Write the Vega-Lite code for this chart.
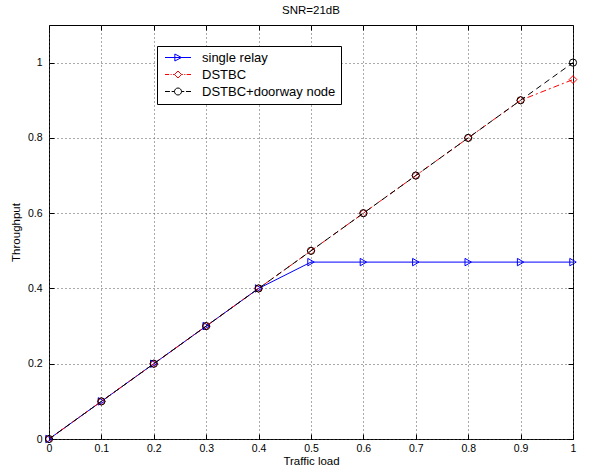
{
  "$schema": "https://vega.github.io/schema/vega-lite/v6.json",
  "width": 524,
  "height": 414,
  "autosize": {"type": "none"},
  "padding": {"left": 49, "top": 25, "right": 17, "bottom": 31},
  "background": "white",
  "title": {"text": "SNR=21dB", "font": "Liberation Sans", "fontSize": 11.5, "fontWeight": "normal", "color": "black", "offset": 8},
  "config": {
    "view": {"stroke": "black", "strokeWidth": 1},
    "axis": {
      "labelFont": "Liberation Sans", "labelFontSize": 10.5, "labelColor": "black",
      "titleFont": "Liberation Sans", "titleFontSize": 11.5, "titleFontWeight": "normal", "titleColor": "black",
      "domain": false, "tickColor": "black", "tickSize": -5, "labelFlush": false, "labelOverlap": false,
      "gridColor": "#555", "gridDash": [1, 3], "gridOpacity": 1
    }
  },
  "data": {"values": [
    {"series": "single relay", "x": 0, "y": 0},
    {"series": "single relay", "x": 0.1, "y": 0.1},
    {"series": "single relay", "x": 0.2, "y": 0.2},
    {"series": "single relay", "x": 0.3, "y": 0.3},
    {"series": "single relay", "x": 0.4, "y": 0.4},
    {"series": "single relay", "x": 0.5, "y": 0.47},
    {"series": "single relay", "x": 0.6, "y": 0.47},
    {"series": "single relay", "x": 0.7, "y": 0.47},
    {"series": "single relay", "x": 0.8, "y": 0.47},
    {"series": "single relay", "x": 0.9, "y": 0.47},
    {"series": "single relay", "x": 1, "y": 0.47},
    {"series": "DSTBC", "x": 0, "y": 0},
    {"series": "DSTBC", "x": 0.1, "y": 0.1},
    {"series": "DSTBC", "x": 0.2, "y": 0.2},
    {"series": "DSTBC", "x": 0.3, "y": 0.3},
    {"series": "DSTBC", "x": 0.4, "y": 0.4},
    {"series": "DSTBC", "x": 0.5, "y": 0.5},
    {"series": "DSTBC", "x": 0.6, "y": 0.6},
    {"series": "DSTBC", "x": 0.7, "y": 0.7},
    {"series": "DSTBC", "x": 0.8, "y": 0.8},
    {"series": "DSTBC", "x": 0.9, "y": 0.9},
    {"series": "DSTBC", "x": 1, "y": 0.955},
    {"series": "DSTBC+doorway node", "x": 0, "y": 0},
    {"series": "DSTBC+doorway node", "x": 0.1, "y": 0.1},
    {"series": "DSTBC+doorway node", "x": 0.2, "y": 0.2},
    {"series": "DSTBC+doorway node", "x": 0.3, "y": 0.3},
    {"series": "DSTBC+doorway node", "x": 0.4, "y": 0.4},
    {"series": "DSTBC+doorway node", "x": 0.5, "y": 0.5},
    {"series": "DSTBC+doorway node", "x": 0.6, "y": 0.6},
    {"series": "DSTBC+doorway node", "x": 0.7, "y": 0.7},
    {"series": "DSTBC+doorway node", "x": 0.8, "y": 0.8},
    {"series": "DSTBC+doorway node", "x": 0.9, "y": 0.9},
    {"series": "DSTBC+doorway node", "x": 1, "y": 1.0}
  ]},
  "layer": [
    {
      "mark": {"type": "point", "opacity": 0},
      "encoding": {
        "x": {"field": "x", "type": "quantitative", "scale": {"domain": [0, 1], "nice": false, "zero": false},
          "axis": {"orient": "top", "labels": false, "title": null, "grid": false, "values": [0, 0.1, 0.2, 0.3, 0.4, 0.5, 0.6, 0.7, 0.8, 0.9, 1]}},
        "y": {"field": "y", "type": "quantitative", "scale": {"domain": [0, 1.1], "nice": false, "zero": false},
          "axis": {"orient": "right", "labels": false, "title": null, "grid": false, "values": [0, 0.2, 0.4, 0.6, 0.8, 1]}}
      }
    },
    {
      "transform": [{"filter": "datum.series == 'single relay'"}],
      "mark": {"type": "line", "strokeWidth": 1},
      "encoding": {
        "x": {"field": "x", "type": "quantitative", "axis": {"orient": "bottom", "title": "Traffic load", "grid": true, "format": "~g", "labelPadding": 9, "titlePadding": 2, "values": [0, 0.1, 0.2, 0.3, 0.4, 0.5, 0.6, 0.7, 0.8, 0.9, 1]}},
        "y": {"field": "y", "type": "quantitative", "axis": {"orient": "left", "title": "Throughput", "grid": true, "format": "~g", "labelPadding": 12, "titlePadding": 6, "values": [0, 0.2, 0.4, 0.6, 0.8, 1]}},
        "color": {"field": "series", "type": "nominal",
          "scale": {"domain": ["single relay", "DSTBC", "DSTBC+doorway node"], "range": ["#0000ff", "#ff0000", "#000000"]},
          "legend": {
            "title": null, "orient": "none", "legendX": 108, "legendY": 21,
            "strokeColor": "black", "fillColor": "white", "padding": 5,
            "labelFont": "Liberation Sans", "labelFontSize": 13, "labelColor": "black", "labelOffset": 27,
            "rowPadding": 3, "symbolSize": 49, "symbolStrokeWidth": 1,
            "encode": {"symbols": {"update": {
              "shape": {"signal": "datum.value == 'single relay' ? 'M-1,0H6.43M1.814,-1L3.714,0L1.814,1Z' : datum.value == 'DSTBC' ? 'M-1,0H0.2M0.6,0H0.9M1.3,0H1.714M3.714,0H4.1M4.5,0H4.8M5.2,0H6.43M2.714,-1L3.714,0L2.714,1L1.714,0Z' : 'M-1,0H0.4M0.9,0H1.714M3.714,0H4.5M5,0H6.43M1.714,0A1,1,0,1,1,3.714,0A1,1,0,1,1,1.714,0Z'"},
              "fill": {"value": "transparent"},
              "stroke": {"scale": "color", "field": "value"},
              "strokeWidth": {"value": 1},
              "strokeDash": {"value": []},
              "size": {"value": 49},
              "opacity": {"value": 1}
            }}}
          }}
      }
    },
    {
      "transform": [{"filter": "datum.series == 'single relay'"}],
      "mark": {"type": "point", "shape": "triangle-right", "filled": false, "size": 55, "strokeWidth": 1, "opacity": 1},
      "encoding": {
        "x": {"field": "x", "type": "quantitative", "axis": null},
        "y": {"field": "y", "type": "quantitative", "axis": null},
        "color": {"field": "series", "type": "nominal"}
      }
    },
    {
      "transform": [{"filter": "datum.series == 'DSTBC'"}],
      "mark": {"type": "line", "strokeWidth": 1, "strokeDash": [6, 3, 2, 3]},
      "encoding": {
        "x": {"field": "x", "type": "quantitative", "axis": null},
        "y": {"field": "y", "type": "quantitative", "axis": null},
        "color": {"field": "series", "type": "nominal"}
      }
    },
    {
      "transform": [{"filter": "datum.series == 'DSTBC'"}],
      "mark": {"type": "point", "shape": "diamond", "filled": false, "size": 60, "strokeWidth": 1, "opacity": 1},
      "encoding": {
        "x": {"field": "x", "type": "quantitative", "axis": null},
        "y": {"field": "y", "type": "quantitative", "axis": null},
        "color": {"field": "series", "type": "nominal"}
      }
    },
    {
      "transform": [{"filter": "datum.series == 'DSTBC+doorway node'"}],
      "mark": {"type": "line", "strokeWidth": 1, "strokeDash": [6, 4]},
      "encoding": {
        "x": {"field": "x", "type": "quantitative", "axis": null},
        "y": {"field": "y", "type": "quantitative", "axis": null},
        "color": {"field": "series", "type": "nominal"}
      }
    },
    {
      "transform": [{"filter": "datum.series == 'DSTBC+doorway node'"}],
      "mark": {"type": "point", "shape": "circle", "filled": false, "size": 52, "strokeWidth": 1, "opacity": 1},
      "encoding": {
        "x": {"field": "x", "type": "quantitative", "axis": null},
        "y": {"field": "y", "type": "quantitative", "axis": null},
        "color": {"field": "series", "type": "nominal"}
      }
    }
  ]
}
